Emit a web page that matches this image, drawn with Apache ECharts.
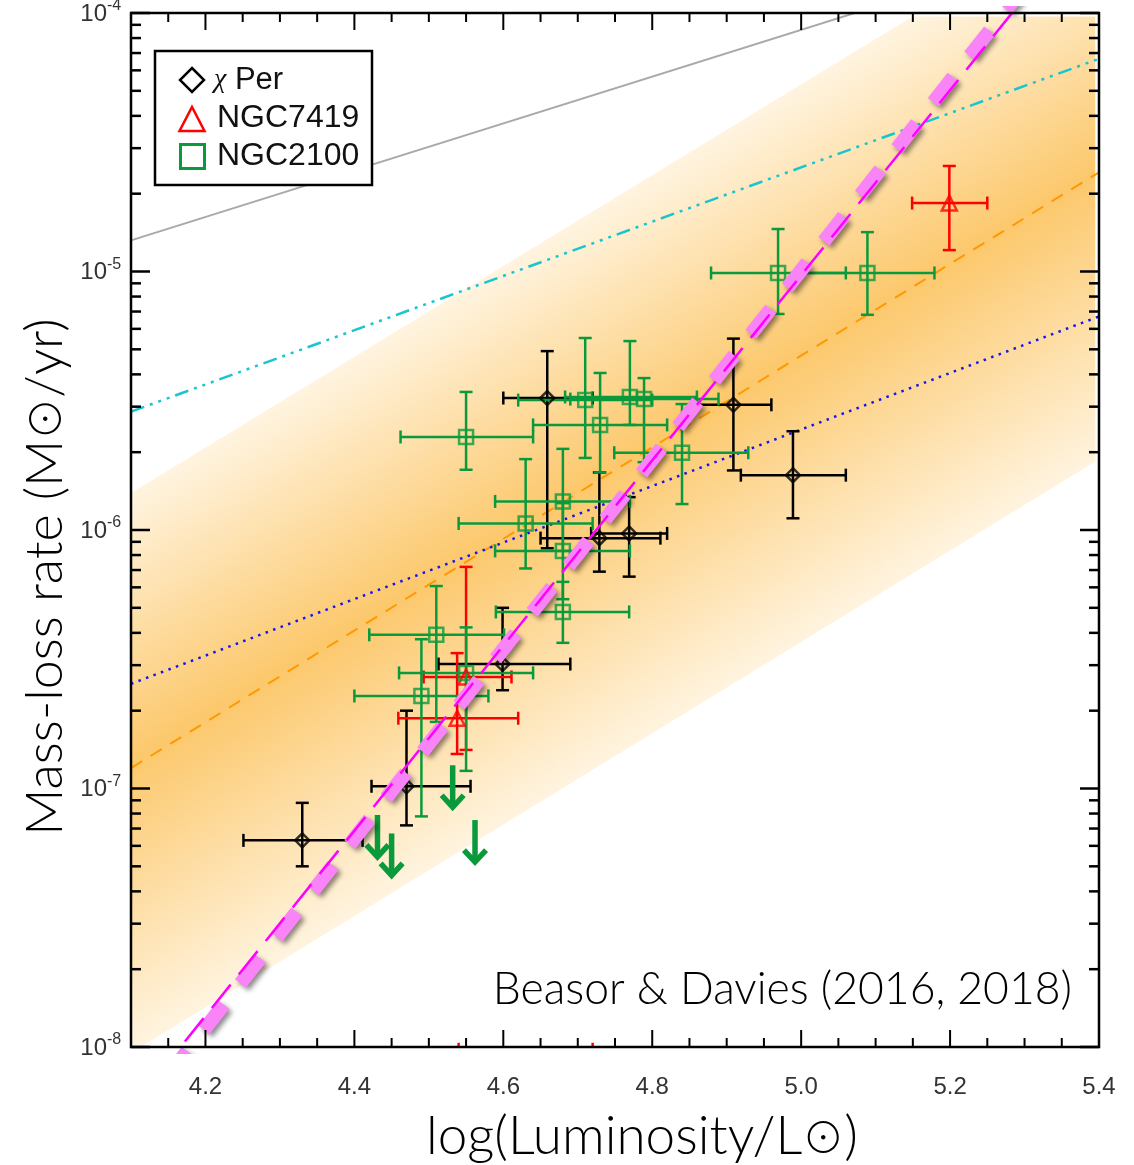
<!DOCTYPE html>
<html><head><meta charset="utf-8">
<script src="https://cdn.jsdelivr.net/npm/echarts@6/dist/echarts.min.js"></script>
<style>html,body{margin:0;padding:0;background:#fff}#c{width:1134px;height:1165px}</style>
</head><body><div id="c"></div>
<script>
// ---------------- data ----------------
// rows: [logL, Mdot, logL_low, logL_high, Mdot_low, Mdot_high]
const chiPer = [
  [4.330, 6.3e-8, 4.251, 4.411, 5.0e-8, 8.8e-8],
  [4.470, 1.02e-7, 4.423, 4.556, 7.2e-8, 2.0e-7],
  [4.599, 3.03e-7, 4.513, 4.690, 2.4e-7, 5.0e-7],
  [4.659, 3.24e-6, 4.600, 4.720, 8.5e-7, 4.92e-6],
  [4.729, 9.3e-7, 4.650, 4.811, 6.9e-7, 1.67e-6],
  [4.769, 9.7e-7, 4.718, 4.820, 6.6e-7, 1.34e-6],
  [4.909, 3.05e-6, 4.859, 4.960, 1.7e-6, 5.5e-6],
  [4.989, 1.63e-6, 4.919, 5.060, 1.11e-6, 2.41e-6]
];
const ngc7419 = [
  [4.538, 1.87e-7, 4.459, 4.620, 1.36e-7, 3.34e-7],
  [4.550, 2.70e-7, 4.493, 4.611, 1.41e-7, 7.2e-7],
  [4.630, 9.8e-9, 4.540, 4.720, 9.8e-9, 9.8e-9],
  [5.199, 1.84e-5, 5.149, 5.250, 1.21e-5, 2.56e-5]
];
const ngc2100 = [
  [4.550, 2.29e-6, 4.462, 4.640, 1.71e-6, 3.42e-6],
  [4.710, 3.18e-6, 4.620, 4.800, 1.90e-6, 5.53e-6],
  [4.770, 3.27e-6, 4.683, 4.860, 2.55e-6, 5.38e-6],
  [4.789, 3.21e-6, 4.690, 4.889, 1.83e-6, 3.87e-6],
  [4.730, 2.55e-6, 4.640, 4.820, 1.67e-6, 4.05e-6],
  [4.840, 1.99e-6, 4.749, 4.929, 1.26e-6, 3.07e-6],
  [4.680, 1.29e-6, 4.589, 4.770, 8.3e-7, 2.06e-6],
  [4.630, 1.06e-6, 4.540, 4.720, 7.1e-7, 1.88e-6],
  [4.680, 8.3e-7, 4.589, 4.770, 5.4e-7, 1.27e-6],
  [4.680, 4.82e-7, 4.590, 4.769, 3.66e-7, 6.3e-7],
  [4.510, 3.93e-7, 4.420, 4.601, 1.81e-7, 6.07e-7],
  [4.550, 2.80e-7, 4.460, 4.640, 1.17e-7, 4.2e-7],
  [4.490, 2.28e-7, 4.400, 4.580, 7.8e-8, 3.78e-7],
  [4.969, 9.87e-6, 4.879, 5.060, 6.85e-6, 1.46e-5],
  [5.089, 9.87e-6, 4.999, 5.179, 6.8e-6, 1.42e-5]
];
// NGC2100 upper limits [logL, Mdot]
const ngc2100Upper = [[4.431, 7.9e-8], [4.450, 6.7e-8], [4.532, 1.23e-7], [4.562, 7.55e-8]];

// prescription lines [[logL, Mdot], [logL, Mdot]]
const grayLine    = [[4.1, 1.32e-5], [5.4, 1.98e-4]];
const cyanLine    = [[4.1, 2.87e-6], [5.4, 6.65e-5]];
const orangeLine  = [[4.1, 1.20e-7], [5.4, 2.42e-5]];
const blueLine    = [[4.1, 2.54e-7], [5.4, 6.7e-6]];
const magentaLine = [[4.1, 5.78e-9], [5.4, 2.62e-4]];
const pinkLine    = [[4.1, 5.10e-9], [5.4, 2.95e-4]];
// band: [x0, lower0, upper0, x1, lower1, upper1, cap]
const band = [[4.1, 9.48e-9, 1.39e-6, 5.395, 1.84e-6, 2.62e-4, 9.7e-5]];

// axis ticks
const xMajorTicks = [4.2, 4.4, 4.6, 4.8, 5.0, 5.2, 5.4];
const yMajorTicks = [1e-8, 1e-7, 1e-6, 1e-5, 1e-4];
const xMinorTicks = [];
for (let k = 83; k <= 107; k++) if (k % 4 !== 0) xMinorTicks.push(k * 0.05);
const yMinorTicks = [];
for (let e = -8; e <= -5; e++) for (let m = 2; m <= 9; m++) yMinorTicks.push(m * Math.pow(10, e));

// ---------------- chart ----------------
const X0 = 4.1, X1 = 5.4, Y0 = 1e-8, Y1 = 1e-4;
const GREEN = '#0a9a3c', RED = '#ff0000', BLACK = '#000000';
const TITLE_FONT = 'Lato';
const tickRows = [[X0, Y0, 2, 0]];
xMajorTicks.forEach(v => tickRows.push([v, Y0, 0, 17]));
xMinorTicks.forEach(v => tickRows.push([v, Y0, 0, 9]));
yMajorTicks.forEach(v => tickRows.push([X0, v, 1, 19]));
yMinorTicks.forEach(v => tickRows.push([X0, v, 1, 10]));

function errorBarSeries(name, data, color, z) {
  return {
    type: 'custom', name, data, z, clip: true, silent: true, encode: { x: 0, y: 1 },
    renderItem(params, api) {
      const x = api.value(0), y = api.value(1);
      const a = api.coord([api.value(2), y]), b = api.coord([api.value(3), y]);
      const c = api.coord([x, api.value(4)]), d = api.coord([x, api.value(5)]);
      const cap = 6.5, st = { stroke: color, lineWidth: 2.5 };
      const L = (x1, y1, x2, y2) => ({ type: 'line', shape: { x1, y1, x2, y2 }, style: st });
      return { type: 'group', children: [
        L(a[0], a[1], b[0], b[1]), L(a[0], a[1] - cap, a[0], a[1] + cap), L(b[0], b[1] - cap, b[0], b[1] + cap),
        L(c[0], c[1], d[0], d[1]), L(c[0] - cap, c[1], c[0] + cap, c[1]), L(d[0] - cap, d[1], d[0] + cap, d[1])
      ]};
    }
  };
}
function markerSeries(name, data, symbol, size, color, z) {
  return {
    type: 'scatter', name, data: data.map(r => [r[0], r[1]]), symbol, symbolSize: size, z, clip: true, silent: true,
    itemStyle: { color: 'rgba(0,0,0,0)', borderColor: color, borderWidth: 2.5 }
  };
}
function lineSeries(data, color, width, type, z, extra) {
  return {
    type: 'line', data, symbol: 'none', showSymbol: false, z, silent: true, clip: true,
    lineStyle: Object.assign({ color, width, type, cap: 'butt' }, extra || {})
  };
}
const sunRich = { o: { fontFamily: 'Noto Sans CJK SC', fontWeight: 300, fontSize: 42, fill: '#000' } };

const option = {
  animation: false,
  grid: { left: 131, right: 35, top: 13, bottom: 118, show: false },
  xAxis: {
    type: 'value', min: X0, max: X1, interval: 0.1,
    axisLine: { show: false }, axisTick: { show: false }, splitLine: { show: false },
    axisLabel: {
      formatter: v => (Math.round(v * 10) % 2 === 0 ? v.toFixed(1) : ''),
      fontSize: 24, color: '#333', fontFamily: 'Liberation Sans', margin: 28
    }
  },
  yAxis: {
    type: 'log', logBase: 10, min: Y0, max: Y1,
    axisLine: { show: false }, axisTick: { show: false }, splitLine: { show: false },
    axisLabel: { show: false }
  },
  series: [
    {
      type: 'custom', name: 'band', data: band, z: 1, clip: true, silent: true, encode: { x: [0, 3], y: [1, 2] },
      renderItem(params, api) {
        const ul = api.coord([api.value(0), api.value(2)]);
        const ur = api.coord([api.value(3), api.value(5)]);
        const lr = api.coord([api.value(3), api.value(4)]);
        const ll = api.coord([api.value(0), api.value(1)]);
        const capY = api.coord([api.value(0), api.value(6)])[1];
        const t = (capY - ul[1]) / (ur[1] - ul[1]);
        const pts = [ul];
        if (t > 0 && t < 1) { pts.push([ul[0] + t * (ur[0] - ul[0]), capY]); pts.push([ur[0], capY]); }
        else pts.push(ur);
        pts.push(lr, ll);
        const dx = ur[0] - ul[0], dy = ur[1] - ul[1], L = Math.hypot(dx, dy);
        const nx = -dy / L, ny = dx / L;
        const dist = (ll[0] - ul[0]) * nx + (ll[1] - ul[1]) * ny;
        const g1 = [ul[0] + nx * dist, ul[1] + ny * dist];
        const fill = new echarts.graphic.LinearGradient(ul[0], ul[1], g1[0], g1[1], [
          { offset: 0, color: '#fff4e0' }, { offset: 0.48, color: '#fcc86c' }, { offset: 1, color: '#fff4e0' }
        ], true);
        return { type: 'polygon', shape: { points: pts }, style: { fill } };
      }
    },
    lineSeries(grayLine, '#a9a9a9', 2, 'solid', 3),
    lineSeries(cyanLine, '#17c6cf', 2.5, [14, 6, 3, 6, 3, 6, 3, 6], 3),
    lineSeries(orangeLine, '#ff9900', 2, [13, 10], 3),
    lineSeries(blueLine, '#1515ee', 2.5, [2.5, 5.5], 3),
    errorBarSeries('chiPerErr', chiPer, BLACK, 4),
    errorBarSeries('ngc7419Err', ngc7419, RED, 5),
    errorBarSeries('ngc2100Err', ngc2100, GREEN, 6),
    markerSeries('χ Per', chiPer, 'diamond', 14, BLACK, 7),
    markerSeries('NGC7419', ngc7419, 'triangle', 15, RED, 7),
    markerSeries('NGC2100', ngc2100, 'rect', 14, GREEN, 7),
    {
      type: 'custom', name: 'ngc2100Upper', data: ngc2100Upper, z: 8, clip: true, silent: true, encode: { x: 0, y: 1 },
      renderItem(params, api) {
        const p = api.coord([api.value(0), api.value(1)]);
        const len = 42, hw = 11, hh = 12, st = { stroke: GREEN, lineWidth: 5.5, fill: null };
        return { type: 'group', children: [
          { type: 'line', shape: { x1: p[0], y1: p[1], x2: p[0], y2: p[1] + len - 3 }, style: st },
          { type: 'polyline', shape: { points: [[p[0] - hw, p[1] + len - hh], [p[0], p[1] + len], [p[0] + hw, p[1] + len - hh]] }, style: st }
        ]};
      }
    },
    lineSeries(pinkLine, '#f884f8', 14, [32, 27], 9,
      { shadowColor: 'rgba(0,0,0,0.45)', shadowBlur: 5, shadowOffsetX: 3, shadowOffsetY: 3 }),
    lineSeries(magentaLine, '#ff00ff', 2.5, [30, 13], 10),
    {
      type: 'custom', name: 'frame', data: tickRows, z: 20, clip: false, silent: true, encode: { x: 0, y: 1 },
      renderItem(params, api) {
        const kind = api.value(2), len = api.value(3);
        if (kind === 2) {
          const a = api.coord([X0, Y1]), b = api.coord([X1, Y0]);
          return { type: 'rect', shape: { x: a[0], y: a[1], width: b[0] - a[0], height: b[1] - a[1] },
                   style: { fill: null, stroke: BLACK, lineWidth: 2.5 } };
        }
        if (kind === 0) {
          const v = api.value(0), b = api.coord([v, Y0]), t = api.coord([v, Y1]);
          const st = { stroke: BLACK, lineWidth: 2 };
          return { type: 'group', children: [
            { type: 'line', shape: { x1: b[0], y1: b[1], x2: b[0], y2: b[1] - len }, style: st },
            { type: 'line', shape: { x1: t[0], y1: t[1], x2: t[0], y2: t[1] + len }, style: st }
          ]};
        }
        const v = api.value(1), l = api.coord([X0, v]), r = api.coord([X1, v]);
        const st = { stroke: BLACK, lineWidth: 2.5 };
        const children = [
          { type: 'line', shape: { x1: l[0], y1: l[1], x2: l[0] + len, y2: l[1] }, style: st },
          { type: 'line', shape: { x1: r[0], y1: r[1], x2: r[0] - len, y2: r[1] }, style: st }
        ];
        if (len > 15) {
          const ex = Math.round(Math.log10(v));
          children.push({ type: 'text', x: l[0] - 24, y: l[1] + 1,
            style: { text: '10', font: 'normal 24px "Liberation Sans"', fill: '#333', align: 'right', verticalAlign: 'middle' } });
          children.push({ type: 'text', x: l[0] - 24, y: l[1] - 7,
            style: { text: String(ex), font: 'normal 16px "Liberation Sans"', fill: '#333', align: 'left', verticalAlign: 'middle' } });
        }
        return { type: 'group', children };
      }
    }
  ],
  graphic: [
    { type: 'text', x: 45, y: 577, rotation: Math.PI / 2, z: 30,
      style: { text: 'Mass-loss rate (M{o|⊙}/yr)', fontSize: 52, fontFamily: TITLE_FONT, fontWeight: 300, fill: '#000', align: 'center', verticalAlign: 'middle', rich: sunRich } },
    { type: 'text', x: 642, y: 1137, z: 30,
      style: { text: 'log(Luminosity/L{o|⊙})', fontSize: 53, fontFamily: TITLE_FONT, fontWeight: 300, fill: '#000', align: 'center', verticalAlign: 'middle', rich: sunRich } },
    { type: 'text', x: 1072, y: 990, z: 30,
      style: { text: 'Beasor & Davies (2016, 2018)', fontSize: 44.5, fontFamily: TITLE_FONT, fontWeight: 300, fill: '#000', align: 'right', verticalAlign: 'middle' } },
    { type: 'rect', z: 30, shape: { x: 155, y: 51, width: 217, height: 134 }, style: { fill: '#fff', stroke: '#000', lineWidth: 2.5 } },
    { type: 'polygon', z: 31, shape: { points: [[192, 68], [204, 80], [192, 92], [180, 80]] }, style: { fill: null, stroke: BLACK, lineWidth: 2.5 } },
    { type: 'polygon', z: 31, shape: { points: [[192, 107], [204.5, 131], [179.5, 131]] }, style: { fill: null, stroke: RED, lineWidth: 2.5 } },
    { type: 'rect', z: 31, shape: { x: 180.5, y: 144.5, width: 24, height: 24 }, style: { fill: null, stroke: GREEN, lineWidth: 3 } },
    { type: 'text', z: 31, x: 214, y: 80,
      style: { text: '{i|χ} Per', fontSize: 31, fontFamily: 'Liberation Sans', fill: '#111', verticalAlign: 'middle',
               rich: { i: { fontSize: 28, fontStyle: 'italic', fontFamily: 'Liberation Serif', fill: '#111' } } } },
    { type: 'text', z: 31, x: 217, y: 118,
      style: { text: 'NGC7419', fontSize: 32, fontFamily: 'Liberation Sans', fill: '#111', verticalAlign: 'middle' } },
    { type: 'text', z: 31, x: 217, y: 156,
      style: { text: 'NGC2100', fontSize: 32, fontFamily: 'Liberation Sans', fill: '#111', verticalAlign: 'middle' } }
  ]
};
const chart = echarts.init(document.getElementById('c'));
chart.setOption(option);
</script>
</body></html>
